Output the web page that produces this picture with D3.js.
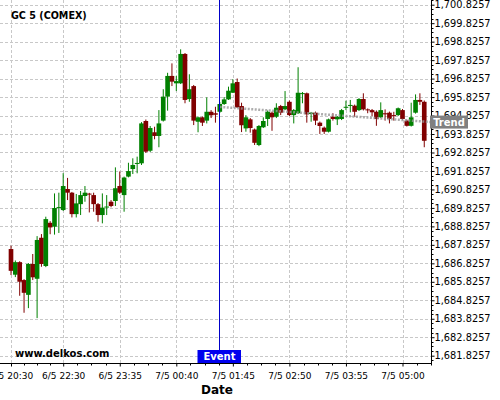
<!DOCTYPE html>
<html><head><meta charset="utf-8">
<script src="https://cdn.jsdelivr.net/npm/d3@7"></script>
<style>body{margin:0;background:#fff}svg{display:block}text{font-family:"DejaVu Sans",sans-serif}</style>
</head><body><svg id="c" width="500" height="400"></svg>
<script>
const times = ["6/5 20:30","6/5 20:35","6/5 20:40","6/5 20:45","6/5 20:50","6/5 20:55",
"6/5 22:00","6/5 22:05","6/5 22:10","6/5 22:15","6/5 22:20","6/5 22:25","6/5 22:30","6/5 22:35","6/5 22:40","6/5 22:45","6/5 22:50","6/5 22:55",
"6/5 23:00","6/5 23:05","6/5 23:10","6/5 23:15","6/5 23:20","6/5 23:25","6/5 23:30","6/5 23:35","6/5 23:40","6/5 23:45","6/5 23:50","6/5 23:55",
"7/5 00:00","7/5 00:05","7/5 00:10","7/5 00:15","7/5 00:20","7/5 00:25","7/5 00:30","7/5 00:35","7/5 00:40","7/5 00:45","7/5 00:50","7/5 00:55",
"7/5 01:00","7/5 01:05","7/5 01:10","7/5 01:15","7/5 01:20","7/5 01:25","7/5 01:30","7/5 01:35","7/5 01:40","7/5 01:45","7/5 01:50","7/5 01:55",
"7/5 02:00","7/5 02:05","7/5 02:10","7/5 02:15","7/5 02:20","7/5 02:25","7/5 02:30","7/5 02:35","7/5 02:40","7/5 02:45","7/5 02:50","7/5 02:55",
"7/5 03:00","7/5 03:05","7/5 03:10","7/5 03:15","7/5 03:20","7/5 03:25","7/5 03:30","7/5 03:35","7/5 03:40","7/5 03:45","7/5 03:50","7/5 03:55",
"7/5 04:00","7/5 04:05","7/5 04:10","7/5 04:15","7/5 04:20","7/5 04:25","7/5 04:30","7/5 04:35","7/5 04:40","7/5 04:45","7/5 04:50","7/5 04:55",
"7/5 05:00","7/5 05:05","7/5 05:10","7/5 05:15","7/5 05:20","7/5 05:25"];

const openP = [1687.60,1686.21,1686.89,1685.92,1685.12,1686.79,
1685.99,1688.21,1686.68,1689.02,1688.81,1689.85,1689.71,1690.85,1690.65,1689.49,1690.03,1690.47,
1690.60,1690.52,1690.03,1689.44,1689.87,1690.16,1690.20,1691.01,1690.52,1691.52,1691.93,1692.23,
1692.24,1694.53,1692.92,1693.92,1693.72,1694.55,1695.85,1696.97,1696.57,1696.57,1698.16,1695.72,
1696.42,1694.49,1694.73,1694.55,1695.03,1694.95,1695.03,1695.45,1695.70,1696.06,1696.64,1695.34,
1694.13,1694.62,1694.07,1693.23,1694.19,1694.64,1694.98,1694.76,1695.34,1695.16,1695.57,1694.85,
1694.95,1696.02,1696.03,1694.91,1694.98,1694.44,1694.17,1693.95,1694.76,1694.62,1694.64,1695.29,
1695.37,1695.36,1695.12,1695.72,1695.16,1695.12,1695.03,1694.73,1694.95,1694.98,1694.85,1694.85,
1695.12,1694.55,1694.27,1694.98,1695.67,1695.57];
const highP = [1687.78,1686.98,1686.94,1685.97,1686.84,1687.33,
1688.30,1688.41,1689.35,1689.11,1690.61,1690.65,1691.71,1691.45,1690.69,1690.58,1690.74,1691.01,
1690.64,1690.65,1690.09,1690.61,1690.52,1690.25,1692.02,1691.80,1691.52,1692.27,1692.51,1692.60,
1694.47,1694.61,1694.26,1694.22,1695.12,1696.25,1697.14,1697.65,1696.97,1698.41,1698.21,1697.06,
1696.48,1694.77,1694.77,1695.81,1695.12,1695.30,1695.56,1695.83,1696.39,1696.79,1696.83,1695.52,
1694.85,1694.69,1694.12,1694.31,1694.73,1695.10,1695.04,1695.49,1695.40,1696.15,1695.64,1695.18,
1697.44,1696.10,1696.07,1695.02,1695.04,1694.50,1694.23,1694.66,1694.95,1694.80,1695.18,1695.63,
1695.67,1695.42,1695.77,1696.03,1695.21,1695.18,1695.10,1695.54,1695.16,1695.04,1695.03,1695.26,
1695.18,1694.61,1695.52,1695.97,1696.03,1695.64];
const lowP = [1686.19,1686.08,1685.07,1684.15,1684.40,1685.92,
1683.86,1686.64,1686.62,1688.40,1688.38,1688.47,1689.66,1690.25,1689.31,1689.31,1689.44,1690.16,
1689.58,1689.62,1689.08,1688.99,1689.44,1689.86,1689.93,1690.58,1689.62,1691.48,1691.66,1691.70,
1692.15,1692.80,1692.85,1693.54,1693.11,1694.50,1695.09,1696.42,1696.15,1696.53,1695.49,1695.57,
1694.31,1693.92,1694.26,1694.40,1694.69,1694.44,1694.96,1695.40,1695.67,1696.05,1695.23,1693.93,
1693.95,1693.90,1693.23,1693.17,1694.15,1694.26,1694.00,1694.69,1694.85,1695.12,1694.80,1694.40,
1694.91,1695.49,1694.44,1694.49,1694.31,1693.83,1693.83,1693.91,1694.55,1694.31,1694.58,1695.12,
1695.00,1694.76,1695.07,1695.10,1694.95,1694.80,1694.27,1694.69,1694.55,1694.40,1694.55,1694.80,
1694.58,1694.23,1694.23,1694.93,1695.40,1693.11];
const closeP = [1686.42,1686.89,1685.83,1685.23,1686.79,1686.07,
1688.09,1686.79,1689.22,1688.77,1689.82,1689.87,1691.01,1690.65,1689.49,1690.07,1690.52,1690.65,
1690.57,1690.03,1689.44,1689.84,1689.90,1689.93,1690.89,1690.65,1691.47,1691.82,1692.15,1692.26,
1694.40,1692.87,1694.15,1693.72,1694.40,1695.85,1696.97,1696.66,1696.69,1698.16,1695.67,1696.25,
1694.55,1694.73,1694.44,1695.03,1694.84,1694.87,1695.45,1695.70,1696.17,1696.57,1695.27,1694.30,
1694.73,1694.15,1693.35,1694.26,1694.53,1695.03,1694.73,1695.25,1694.98,1695.34,1694.85,1695.12,
1696.06,1696.04,1694.89,1694.98,1694.55,1694.26,1693.95,1694.62,1694.64,1694.76,1695.12,1695.30,
1695.40,1695.03,1695.72,1695.16,1695.12,1695.00,1694.64,1695.12,1694.89,1694.64,1694.80,1695.22,
1694.64,1694.27,1694.73,1695.67,1695.57,1693.46];

const xTickLabels = ["6/5 20:30","6/5 22:30","6/5 23:35","7/5 00:40","7/5 01:45","7/5 02:50","7/5 03:55","7/5 05:00"];
const yTickValues = [1681.8257,1682.8257,1683.8257,1684.8257,1685.8257,1686.8257,1687.8257,1688.8257,1689.8257,1690.8257,
1691.8257,1692.8257,1693.8257,1694.8257,1695.8257,1696.8257,1697.8257,1698.8257,1699.8257,1700.8257];
const eventTime = "7/5 01:30";
const trendTimes = ["7/5 01:30","7/5 05:25"];
const trendValues = [1695.29, 1694.50];
const title = "GC 5 (COMEX)";
const watermark = "www.delkos.com";

const svg = d3.select("#c");
const W = 431.5, H = 363.5;
const x = d3.scalePoint().domain(times).range([11, 424.25]);
const y = d3.scaleLinear().domain([1681.4035, 1701.0801]).range([H, 0]);
const step = x.step();

// grid
const g = svg.append("g");
g.selectAll(".hg").data(yTickValues).join("line")
  .attr("x1",0).attr("x2",W).attr("y1",d=>Math.round(y(d))+0.5).attr("y2",d=>Math.round(y(d))+0.5)
  .attr("stroke","#c8c8c8").attr("stroke-dasharray","3,2");
g.selectAll(".vg").data(xTickLabels).join("line")
  .attr("y1",0).attr("y2",H).attr("x1",d=>Math.round(x(d))+0.5).attr("x2",d=>Math.round(x(d))+0.5)
  .attr("stroke","#c8c8c8").attr("stroke-dasharray","3,2");

// title & watermark
svg.append("text").attr("x",11).attr("y",19).attr("font-size",9.6).attr("font-weight","bold").text(title);
svg.append("text").attr("x",15).attr("y",357).attr("font-size",10).attr("font-weight","bold").text(watermark);

// candles
const idx = d3.range(times.length);
const col = i => closeP[i] >= openP[i] ? "#008000" : "#800000";
const cg = svg.append("g");
cg.selectAll("line").data(idx).join("line")
  .attr("x1",i=>x(times[i])).attr("x2",i=>x(times[i]))
  .attr("y1",i=>y(highP[i])).attr("y2",i=>y(lowP[i]))
  .attr("stroke",col).attr("stroke-width",1);
const bw = step + 0.3;
cg.selectAll("rect").data(idx).join("rect")
  .attr("x",i=>x(times[i])-bw/2).attr("width",bw)
  .attr("y",i=>y(Math.max(openP[i],closeP[i])))
  .attr("height",i=>Math.max(1, Math.abs(y(openP[i])-y(closeP[i]))))
  .attr("fill",col);

// trend line
const tx0 = x(trendTimes[0]), tx1 = x(trendTimes[1]);
const ty0 = y(trendValues[0]), ty1 = y(trendValues[1]);
const slope = (ty1-ty0)/(tx1-tx0);
const tyEnd = ty1 + slope*(W-tx1);
svg.append("line").attr("x1",tx0).attr("y1",ty0).attr("x2",W).attr("y2",tyEnd)
  .attr("stroke","#999").attr("stroke-opacity",0.8).attr("stroke-width",2.5).attr("stroke-dasharray","2,1.5");

// event line
const ex = Math.round(x(eventTime))-0.5;
svg.append("line").attr("x1",ex).attr("x2",ex).attr("y1",0).attr("y2",H).attr("stroke","#0000c8").attr("stroke-width",1);

// axes
const ya = svg.append("g").attr("transform",`translate(${W},0)`)
  .call(d3.axisRight(y).tickValues(yTickValues).tickFormat(d3.format(",.4f")).tickSize(3).tickSizeOuter(0).tickPadding(0));
ya.select(".domain").remove();
ya.selectAll("text").attr("font-size",9.8).attr("font-family","DejaVu Sans").attr("fill","#000");
// y minor ticks (quarter units)
const yMinor = [];
yTickValues.forEach(v => { for (let k=1;k<4;k++) yMinor.push(v + k/4); });
yMinor.push(...[1,2,3].map(k => yTickValues[0] - k/4));
svg.append("g").selectAll("line").data(yMinor.filter(v => y(v) >= 0 && y(v) <= H)).join("line")
  .attr("x1",W).attr("x2",W+2).attr("y1",d=>Math.round(y(d))+0.5).attr("y2",d=>Math.round(y(d))+0.5)
  .attr("stroke","#000");

const xa = svg.append("g").attr("transform",`translate(0,${H})`)
  .call(d3.axisBottom(x).tickValues(xTickLabels).tickSize(3).tickPadding(6));
xa.select(".domain").remove();
xa.selectAll("text").attr("font-size",9).attr("font-family","DejaVu Sans").attr("fill","#000");
// x minor ticks (quarters between labelled ticks)
const xMaj = xTickLabels.map(d => x(d));
const xMinor = [];
for (let k=0;k<xMaj.length;k++) {
  const sp = k < xMaj.length-1 ? xMaj[k+1]-xMaj[k] : xMaj[k]-xMaj[k-1];
  for (let j=1;j<4;j++) { const p = xMaj[k] + j*sp/4; if (p < W) xMinor.push(p); }
}
svg.append("g").selectAll("line").data(xMinor).join("line")
  .attr("x1",d=>Math.round(d)+0.5).attr("x2",d=>Math.round(d)+0.5).attr("y1",H).attr("y2",H+2)
  .attr("stroke","#000");
svg.append("line").attr("x1",0).attr("x2",W+0.5).attr("y1",H).attr("y2",H).attr("stroke","#000");
svg.append("line").attr("x1",W).attr("x2",W).attr("y1",0).attr("y2",H).attr("stroke","#000");

// event label
const eg = svg.append("g");
eg.append("rect").attr("x",ex-22).attr("y",350).attr("width",43.5).attr("height",13).attr("fill","#0000ee");
eg.append("text").attr("x",ex).attr("y",360).attr("text-anchor","middle").attr("font-size",10)
  .attr("font-weight","bold").attr("fill","#fff").text("Event");

// trend label
svg.append("rect").attr("x",430).attr("y",tyEnd-6.5).attr("width",38).attr("height",13).attr("fill","#808080");
svg.append("text").attr("x",449).attr("y",tyEnd+3.8).attr("text-anchor","middle").attr("font-size",10)
  .attr("font-weight","bold").attr("fill","#fff").text("Trend");

// axis title
svg.append("text").attr("x",217).attr("y",394).attr("text-anchor","middle").attr("font-size",12)
  .attr("font-weight","bold").text("Date");
</script></body></html>
